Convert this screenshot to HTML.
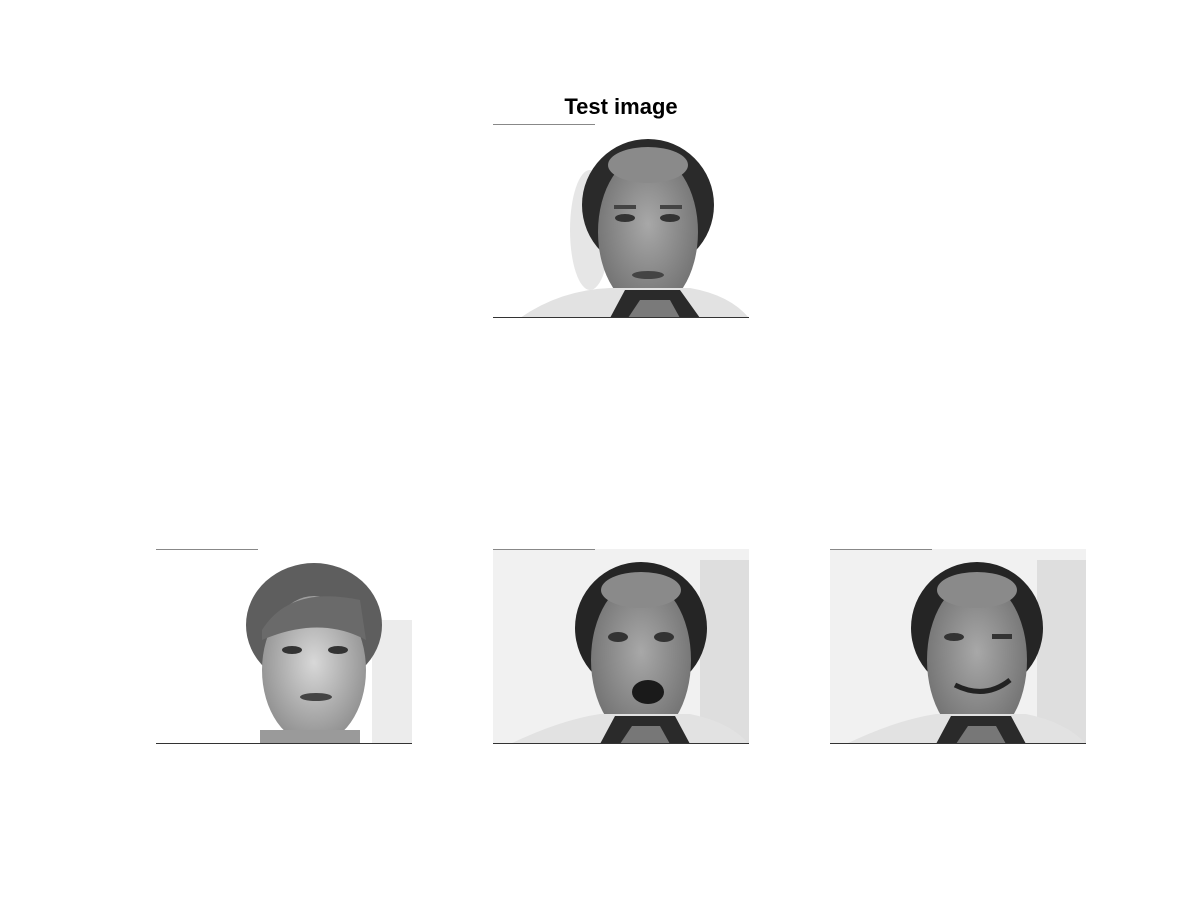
<!DOCTYPE html>
<html>
<head>
<meta charset="utf-8">
<style>
  html, body { margin: 0; padding: 0; background: #fff; }
  #fig { width: 1200px; height: 900px; position: relative; background: #fff; }
  text { font-family: "Liberation Sans", Arial, sans-serif; }
</style>
</head>
<body>
<div id="fig">
<svg width="1200" height="900" viewBox="0 0 1200 900" xmlns="http://www.w3.org/2000/svg">
  <defs>
    <radialGradient id="faceG" cx="50%" cy="45%" r="60%">
      <stop offset="0%" stop-color="#a8a8a8"/>
      <stop offset="100%" stop-color="#6e6e6e"/>
    </radialGradient>
    <radialGradient id="faceL" cx="50%" cy="45%" r="60%">
      <stop offset="0%" stop-color="#d8d8d8"/>
      <stop offset="100%" stop-color="#8a8a8a"/>
    </radialGradient>
    <clipPath id="c1"><rect x="493" y="124" width="256" height="194"/></clipPath>
    <clipPath id="c2"><rect x="156" y="549" width="256" height="195"/></clipPath>
    <clipPath id="c3"><rect x="493" y="549" width="256" height="195"/></clipPath>
    <clipPath id="c4"><rect x="830" y="549" width="256" height="195"/></clipPath>
  </defs>

  <text x="621" y="114" text-anchor="middle" font-size="22" font-weight="bold" fill="#000">Test image</text>

  <!-- Top test image -->
  <g clip-path="url(#c1)">
    <rect x="493" y="124" width="256" height="194" fill="#fff"/>
    <ellipse cx="590" cy="230" rx="20" ry="60" fill="#e6e6e6"/>
    <ellipse cx="648" cy="205" rx="66" ry="66" fill="#2a2a2a"/>
    <ellipse cx="648" cy="232" rx="50" ry="78" fill="url(#faceG)"/>
    <ellipse cx="648" cy="165" rx="40" ry="18" fill="#8a8a8a"/>
    <ellipse cx="625" cy="218" rx="10" ry="4" fill="#333"/>
    <ellipse cx="670" cy="218" rx="10" ry="4" fill="#333"/>
    <rect x="614" y="205" width="22" height="4" fill="#444"/>
    <rect x="660" y="205" width="22" height="4" fill="#444"/>
    <ellipse cx="648" cy="275" rx="16" ry="4" fill="#444"/>
    <path d="M520 318 Q560 290 610 288 L690 288 Q730 295 749 318 Z" fill="#e2e2e2"/>
    <path d="M610 318 L625 290 L680 290 L700 318 Z" fill="#2a2a2a"/>
    <path d="M628 318 L640 300 L670 300 L680 318 Z" fill="#7a7a7a"/>
  </g>
  <line x1="493" y1="124.5" x2="595" y2="124.5" stroke="#888" stroke-width="1"/>
  <line x1="493" y1="317.5" x2="749" y2="317.5" stroke="#333" stroke-width="1"/>

  <!-- Bottom left -->
  <g clip-path="url(#c2)">
    <rect x="156" y="549" width="256" height="195" fill="#fff"/>
    <rect x="372" y="620" width="40" height="124" fill="#ececec"/>
    <ellipse cx="314" cy="625" rx="68" ry="62" fill="#5e5e5e"/>
    <ellipse cx="314" cy="670" rx="52" ry="74" fill="url(#faceL)"/>
    <path d="M262 630 Q290 585 360 600 L366 640 Q320 615 262 640 Z" fill="#6a6a6a"/>
    <ellipse cx="292" cy="650" rx="10" ry="4" fill="#333"/>
    <ellipse cx="338" cy="650" rx="10" ry="4" fill="#333"/>
    <ellipse cx="316" cy="697" rx="16" ry="4" fill="#444"/>
    <rect x="260" y="730" width="100" height="14" fill="#9a9a9a"/>
  </g>
  <line x1="156" y1="549.5" x2="258" y2="549.5" stroke="#888" stroke-width="1"/>
  <line x1="156" y1="743.5" x2="412" y2="743.5" stroke="#333" stroke-width="1"/>

  <!-- Bottom middle -->
  <g clip-path="url(#c3)">
    <rect x="493" y="549" width="256" height="195" fill="#f1f1f1"/>
    <rect x="700" y="560" width="49" height="184" fill="#dedede"/>
    <ellipse cx="641" cy="628" rx="66" ry="66" fill="#252525"/>
    <ellipse cx="641" cy="660" rx="50" ry="80" fill="url(#faceG)"/>
    <ellipse cx="641" cy="590" rx="40" ry="18" fill="#8a8a8a"/>
    <ellipse cx="618" cy="637" rx="10" ry="5" fill="#333"/>
    <ellipse cx="664" cy="637" rx="10" ry="5" fill="#333"/>
    <ellipse cx="648" cy="692" rx="16" ry="12" fill="#1a1a1a"/>
    <path d="M510 744 Q560 720 600 714 L690 714 Q730 722 749 744 Z" fill="#e2e2e2"/>
    <path d="M600 744 L615 716 L675 716 L690 744 Z" fill="#2a2a2a"/>
    <path d="M620 744 L632 726 L660 726 L670 744 Z" fill="#777"/>
  </g>
  <line x1="493" y1="549.5" x2="595" y2="549.5" stroke="#888" stroke-width="1"/>
  <line x1="493" y1="743.5" x2="749" y2="743.5" stroke="#333" stroke-width="1"/>

  <!-- Bottom right -->
  <g clip-path="url(#c4)">
    <rect x="830" y="549" width="256" height="195" fill="#f1f1f1"/>
    <rect x="1037" y="560" width="49" height="184" fill="#dedede"/>
    <ellipse cx="977" cy="628" rx="66" ry="66" fill="#252525"/>
    <ellipse cx="977" cy="660" rx="50" ry="80" fill="url(#faceG)"/>
    <ellipse cx="977" cy="590" rx="40" ry="18" fill="#8a8a8a"/>
    <ellipse cx="954" cy="637" rx="10" ry="4" fill="#333"/>
    <rect x="992" y="634" width="20" height="5" fill="#333"/>
    <path d="M955 685 Q985 700 1010 680" stroke="#222" stroke-width="5" fill="none"/>
    <path d="M846 744 Q896 720 936 714 L1026 714 Q1066 722 1086 744 Z" fill="#e2e2e2"/>
    <path d="M936 744 L951 716 L1011 716 L1026 744 Z" fill="#2a2a2a"/>
    <path d="M956 744 L968 726 L996 726 L1006 744 Z" fill="#777"/>
  </g>
  <line x1="830" y1="549.5" x2="932" y2="549.5" stroke="#888" stroke-width="1"/>
  <line x1="830" y1="743.5" x2="1086" y2="743.5" stroke="#333" stroke-width="1"/>
</svg>
</div>
</body>
</html>
